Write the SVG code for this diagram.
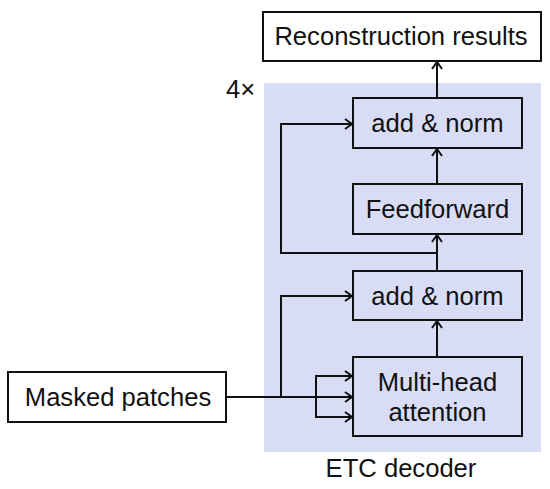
<svg xmlns="http://www.w3.org/2000/svg" width="550" height="489" viewBox="0 0 550 489">
  <style>
    .box { fill: none; stroke: #111; stroke-width: 2; }
    .wbox { fill: #fff; stroke: #111; stroke-width: 2; }
    .lbl { font-family: "Liberation Sans", Arial, sans-serif; font-size: 25.6px; fill: #111; text-anchor: middle; }
    .conn { fill: none; stroke: #111; stroke-width: 2; }
  </style>
  <defs>
    <marker id="arr" viewBox="0 0 10 12" refX="9" refY="6" markerWidth="10" markerHeight="12" markerUnits="userSpaceOnUse" orient="auto">
      <path d="M2,1 L9,6 L2,11" fill="none" stroke="#111" stroke-width="2"/>
    </marker>
  </defs>
  <rect id="decoder-bg" x="264" y="83" width="277" height="369" fill="#d8ddf5"/>
  <g id="label-4x"><text class="lbl" x="226" y="98" style="text-anchor:start">4×</text></g>
  <g id="label-decoder"><text class="lbl" x="401" y="477">ETC decoder</text></g>
  <g id="reconstruction">
    <rect class="wbox" x="263" y="12" width="278" height="49"/>
    <text class="lbl" x="401" y="45">Reconstruction results</text>
  </g>
  <g id="addnorm-top">
    <rect class="box" x="353" y="98" width="169" height="50"/>
    <text class="lbl" x="437.5" y="132">add &amp; norm</text>
  </g>
  <g id="feedforward">
    <rect class="box" x="353" y="184" width="169" height="50"/>
    <text class="lbl" x="437.5" y="218">Feedforward</text>
  </g>
  <g id="addnorm-bottom">
    <rect class="box" x="353" y="271" width="169" height="49"/>
    <text class="lbl" x="437.5" y="304.5">add &amp; norm</text>
  </g>
  <g id="multihead">
    <rect class="box" x="353" y="357" width="169" height="79"/>
    <text class="lbl" x="437.5" y="391">Multi-head</text>
    <text class="lbl" x="437.5" y="421">attention</text>
  </g>
  <g id="masked">
    <rect class="wbox" x="8" y="372" width="218" height="50"/>
    <text class="lbl" x="118" y="406">Masked patches</text>
  </g>
  <g id="connectors">
    <path class="conn" d="M226,397 H352" marker-end="url(#arr)"/>
    <path class="conn" d="M316,397 V376 H352" marker-end="url(#arr)"/>
    <path class="conn" d="M316,397 V417 H352" marker-end="url(#arr)"/>
    <path class="conn" d="M281,397 V296 H352" marker-end="url(#arr)"/>
    <path class="conn" d="M437,357 V321" marker-end="url(#arr)"/>
    <path class="conn" d="M437,271 V235" marker-end="url(#arr)"/>
    <path class="conn" d="M437,253 H281 V124 H352" marker-end="url(#arr)"/>
    <path class="conn" d="M437,184 V149" marker-end="url(#arr)"/>
    <path class="conn" d="M437,98 V62" marker-end="url(#arr)"/>
  </g>
</svg>
